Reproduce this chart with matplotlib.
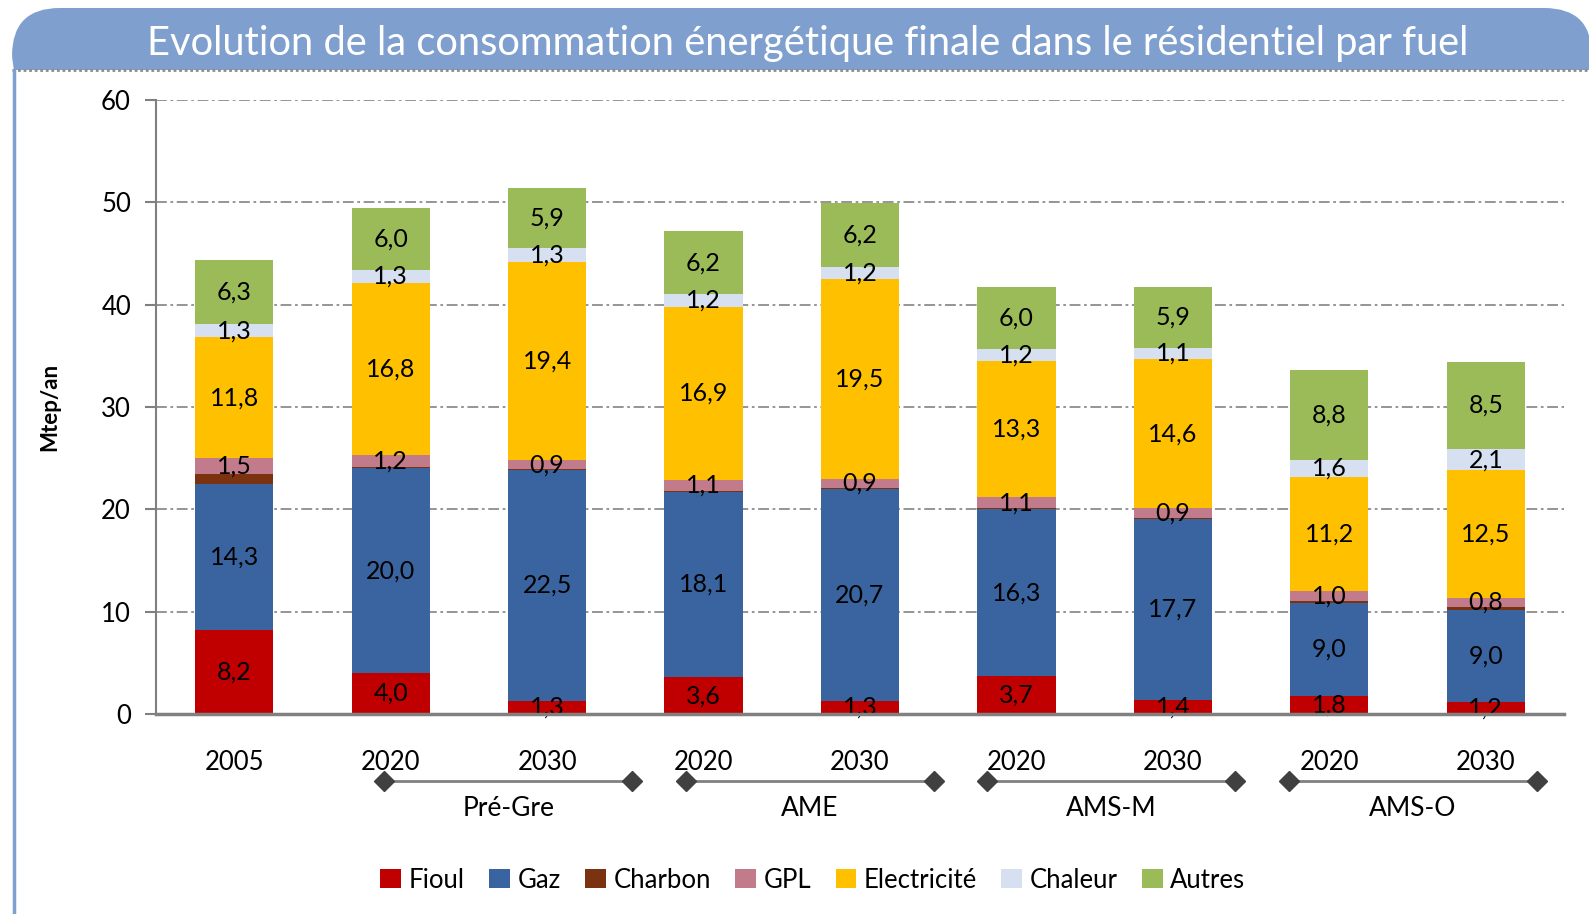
"""Evolution de la consommation énergétique finale dans le résidentiel par fuel."""

import matplotlib

matplotlib.use("Agg")
import matplotlib.pyplot as plt
import matplotlib.transforms as mtransforms
from matplotlib.lines import Line2D
from matplotlib.patches import FancyBboxPatch, Rectangle
import numpy as np

YEARS = ["2005", "2020", "2030", "2020", "2030", "2020", "2030", "2020", "2030"]
SCENARIOS = ["Pré-Gre", "AME", "AMS-M", "AMS-O"]
FUELS = ["Fioul", "Gaz", "Charbon", "GPL", "Electricité", "Chaleur", "Autres"]

fioul = [8.2, 4.0, 1.3, 3.6, 1.3, 3.7, 1.4, 1.8, 1.2]
gaz = [14.3, 20.0, 22.5, 18.1, 20.7, 16.3, 17.7, 9.0, 9.0]
charbon = [1.0, 0.1, 0.1, 0.1, 0.1, 0.1, 0.1, 0.2, 0.3]
gpl = [1.5, 1.2, 0.9, 1.1, 0.9, 1.1, 0.9, 1.0, 0.8]
electricite = [11.8, 16.8, 19.4, 16.9, 19.5, 13.3, 14.6, 11.2, 12.5]
chaleur = [1.3, 1.3, 1.3, 1.2, 1.2, 1.2, 1.1, 1.6, 2.1]
autres = [6.3, 6.0, 5.9, 6.2, 6.2, 6.0, 5.9, 8.8, 8.5]

SERIES = [fioul, gaz, charbon, gpl, electricite, chaleur, autres]
COLORS = ["#C00000", "#3A64A0", "#7A3210", "#C27B8A", "#FFC000", "#D6E0F0", "#9BBB59"]
LABELLED = [True, True, False, True, True, True, True]

W, H = 1589, 914
plt.rcParams["font.family"] = ["Lato", "DejaVu Sans"]

fig = plt.figure(figsize=(W / 100, H / 100), dpi=100)


def fx(x):
    return x / W


def fy(y):
    return 1 - y / H


# title banner (drawn below the axes)
banner = FancyBboxPatch((fx(12), fy(100)), fx(1592) - fx(12), fy(8) - fy(100),
                        boxstyle="round,pad=0,rounding_size=0.03",
                        transform=fig.transFigure, facecolor="#7F9FCF",
                        edgecolor="none", mutation_aspect=W / H, zorder=-3)
fig.patches.append(banner)
fig.patches.append(Rectangle((fx(0), 0), 1, fy(70), transform=fig.transFigure,
                             facecolor="white", edgecolor="none", zorder=-2))
fig.lines.append(Line2D([fx(12), fx(1589)], [fy(70), fy(70)], transform=fig.transFigure,
                        color="#8C8C8C", lw=2, ls=(0, (1, 1)), zorder=-1))
fig.lines.append(Line2D([fx(13.5), fx(13.5)], [fy(71), 0], transform=fig.transFigure,
                        color="#7F9FCF", lw=2.5, zorder=-1))
fig.text(fx(808), fy(44), "Evolution de la consommation énergétique finale dans le résidentiel par fuel",
         color="white", fontsize=28.7, ha="center", va="center")

ax = fig.add_axes([fx(156), fy(714), fx(1564) - fx(156), fy(100) - fy(714)])
ax.set_facecolor("none")
x = np.arange(len(YEARS))
bottom = np.zeros(len(YEARS))
for vals, color, lab in zip(SERIES, COLORS, LABELLED):
    vals = np.array(vals)
    ax.bar(x, vals, width=0.5, bottom=bottom, color=color, zorder=3)
    if lab:
        for xi, b, v in zip(x, bottom, vals):
            ax.text(xi, b + v / 2, f"{v:.1f}".replace(".", ","), ha="center", va="center",
                    fontsize=18, color="black", zorder=4)
    bottom += vals

ax.set_xlim(-0.5, 8.5)
ax.set_ylim(0, 60)
ax.set_yticks(range(0, 61, 10))
ax.set_xticks(x)
ax.set_xticklabels(YEARS, fontsize=18.5)
ax.tick_params(axis="x", length=0, pad=26)
ax.tick_params(axis="y", labelsize=18.5, length=8, width=1.5, color="#808080", pad=10)
ax.yaxis.grid(True, color="#8C8C8C", lw=1.3, ls=(0, (6, 2, 1.5, 2)), zorder=0)
for s in ("top", "right"):
    ax.spines[s].set_visible(False)
ax.spines["left"].set_color("#808080")
ax.spines["left"].set_linewidth(1.5)
ax.spines["bottom"].set_color("#808080")
ax.spines["bottom"].set_linewidth(2.5)
ax.spines["bottom"].set_zorder(5)
ax.set_ylabel("Mtep/an", fontsize=16, fontweight="bold")
ax.yaxis.set_label_coords(-0.068, 0.5)

# scenario brackets under the year labels
trans = mtransforms.blended_transform_factory(ax.transData, fig.transFigure)
for i, name in enumerate(SCENARIOS):
    x0 = 0.96 + i * 1.927
    x1 = x0 + 1.585
    ax.plot([x0, x1], [fy(781), fy(781)], transform=trans, color="#808080", lw=2,
            marker="D", markersize=10, markerfacecolor="#404040", markeredgecolor="#404040",
            clip_on=False)
    ax.text((x0 + x1) / 2, fy(808), name, transform=trans, ha="center", va="center", fontsize=19)

handles = [Rectangle((0, 0), 1, 1, facecolor=c, edgecolor="none") for c in COLORS]
fig.legend(handles, FUELS, loc="center", bbox_to_anchor=(fx(813), fy(880)), ncol=7,
           frameon=False, fontsize=18.5, handlelength=0.8, handleheight=0.8,
           handletextpad=0.3, columnspacing=0.95)

fig.savefig("out.png", dpi=100)
